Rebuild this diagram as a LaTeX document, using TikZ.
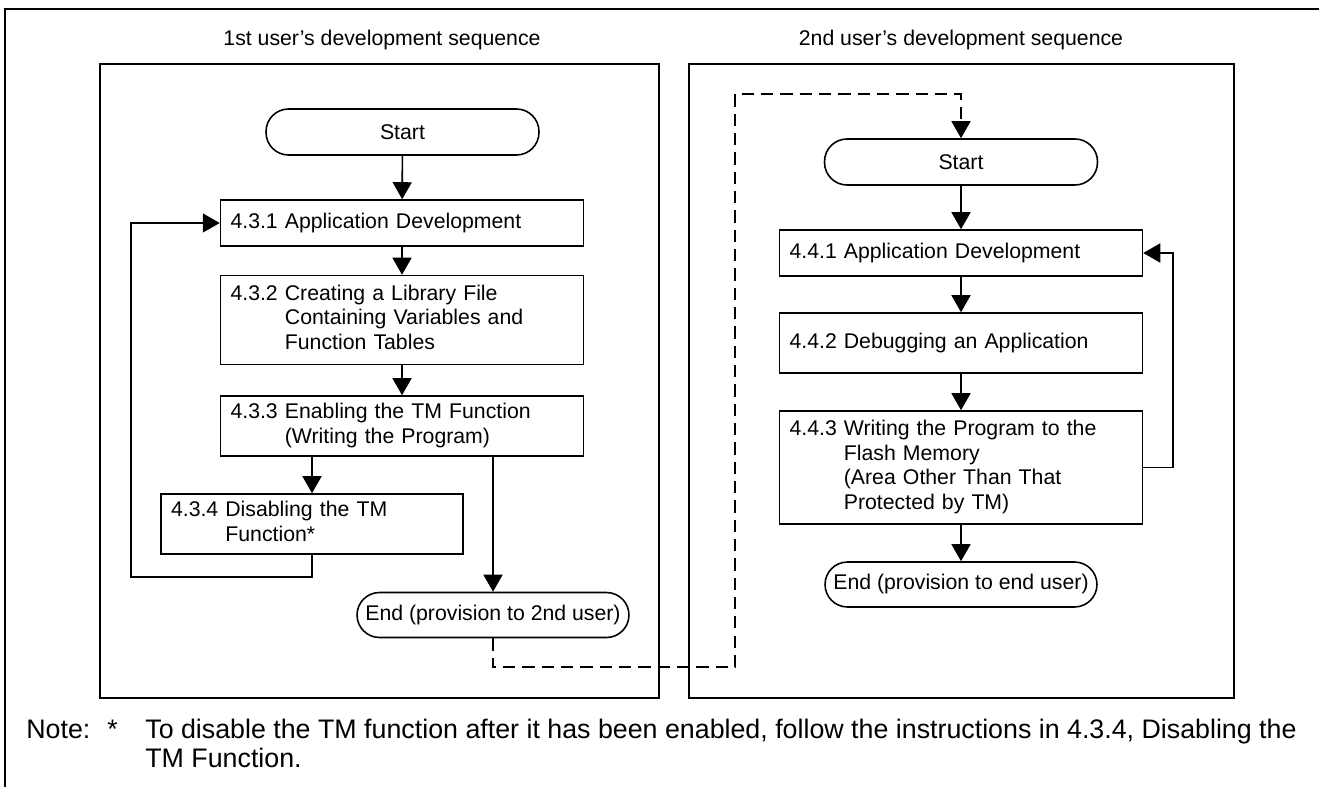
\documentclass[tikz,border=0pt]{standalone}
\usepackage{fontspec}
\setmainfont{Liberation Sans}
\usetikzlibrary{arrows.meta,positioning}
\newcommand{\sect}[2]{\begin{tabular}{@{}l@{\ }l@{}}#1 & #2\end{tabular}}

\begin{document}
\begin{tikzpicture}[x=0.02cm,y=-0.02cm,
    every node/.style={font=\fontsize{12.1}{14.2}\selectfont},
    stepbox/.style={draw,line width=0.9pt,text width=6.86cm,align=left,inner xsep=0.2cm,inner ysep=0pt},
    term/.style={draw,line width=0.9pt,rounded corners=0.45cm,minimum width=5.46cm,minimum height=0.92cm,inner sep=0pt},
    arr/.style={line width=0.9pt,-{Triangle[length=0.34cm,width=0.38cm]}},
    panel/.style={draw,line width=0.9pt},
    notetext/.style={anchor=base west,inner xsep=0pt,font=\fontsize{15.25}{18}\selectfont}]
    \useasboundingbox (0,0) rectangle (1319,787);
    \draw[line width=1.4pt] (5,787) -- (5,9) -- (1319,9);
    \node (t1) at (382,40) {1st user's development sequence};
    \node (t2) at (961,40) {2nd user's development sequence};
    \draw[panel] (100,64) rectangle (659,698);
    \draw[panel] (689,64) rectangle (1234,698);
    % 1st user
    \node[term] (s1) at (402.5,132) {Start};
    \node[stepbox,minimum height=0.92cm] (a1) at (402,223) {4.3.1 Application Development};
    \node[stepbox,minimum height=1.78cm] (a2) at (402,320) {\sect{4.3.2}{Creating a Library File\\ & Containing Variables and\\ & Function Tables}};
    \node[stepbox,minimum height=1.2cm] (a3) at (402,426) {\sect{4.3.3}{Enabling the TM Function\\ & (Writing the Program)}};
    \node[stepbox,minimum height=1.2cm,text width=5.64cm] (a4) at (312,524) {\sect{4.3.4}{Disabling the TM\\ & Function*}};
    \node[term,minimum width=5.44cm,minimum height=0.9cm] (e1) at (493,615) {End (provision to 2nd user)};
    % 2nd user
    \node[term] (s2) at (961,162) {Start};
    \node[stepbox,minimum height=0.92cm] (b1) at (961,253) {4.4.1 Application Development};
    \node[stepbox,minimum height=1.2cm] (b2) at (961,343) {4.4.2 Debugging an Application};
    \node[stepbox,minimum height=2.26cm] (b3) at (961,467.5) {\sect{4.4.3}{Writing the Program to the\\ & Flash Memory\\ & (Area Other Than That\\ & Protected by TM)}};
    \node[term,minimum width=5.44cm,minimum height=0.9cm] (e2) at (961,584.5) {End (provision to end user)};
    \coordinate (loopA) at (131,577);
    \coordinate (loopB) at (1173,0);
    \coordinate (handA) at (735,667);
    \coordinate (handB) at (735,94);
    \draw[arr] (s1) -- (a1);
    \draw[arr] (a1) -- (a2);
    \draw[arr] (a2) -- (a3);
    \draw[arr] (a3.south -| a4) -- (a4);
    \draw[arr] (a3.south -| e1) -- (e1);
    \draw[arr] (a4.south) |- (loopA) |- (a1.west);
    \draw[arr] (s2) -- (b1);
    \draw[arr] (b1) -- (b2);
    \draw[arr] (b2) -- (b3);
    \draw[arr] (b3) -- (e2);
    \draw[arr] (b3.east) -- (b3.east -| loopB) |- (b1.east);
    \draw[arr,dash pattern=on 7pt off 4pt] (e1.south) |- (handA) -- (handB) -| (s2.north);
    % note
    \node[notetext] (n0) at (26,738) {Note:};
    \node[notetext] (n1) at (107,738) {*};
    \node[notetext] (n2) at (145,738) {To disable the TM function after it has been enabled, follow the instructions in 4.3.4, Disabling the};
    \node[notetext] (n3) at (145,767) {TM Function.};
\end{tikzpicture}
\end{document}
